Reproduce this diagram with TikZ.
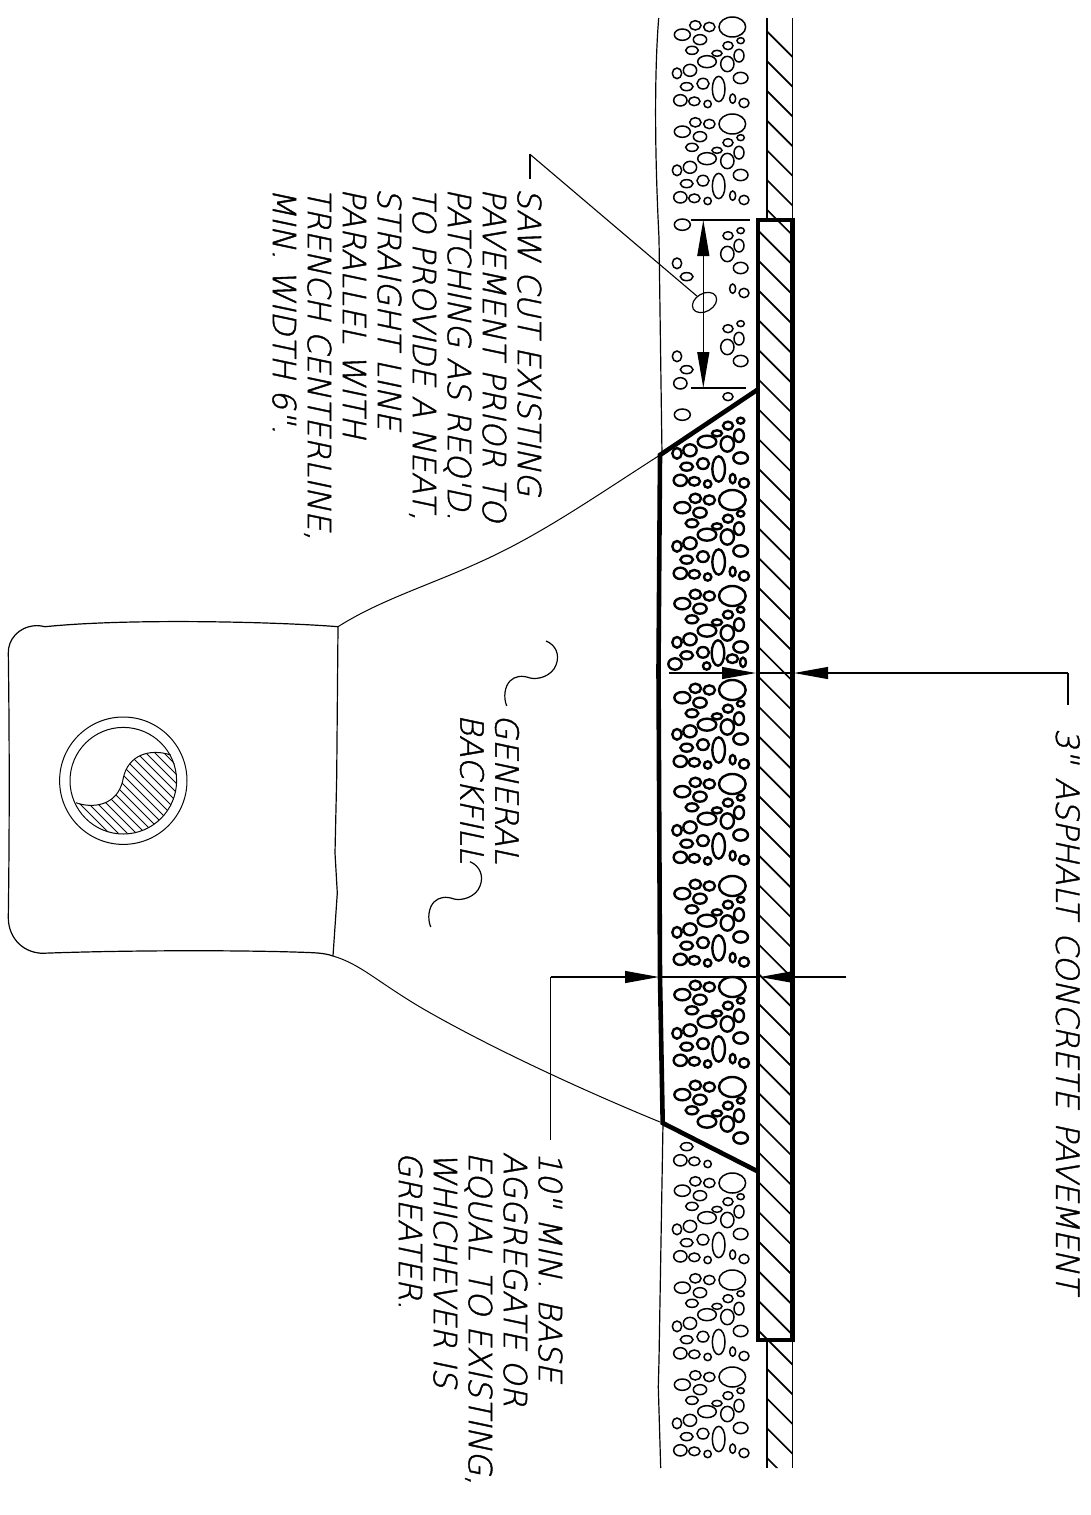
\documentclass[tikz,border=0pt]{standalone}
\usepackage{fontspec}
\usepackage{tikz}
\usetikzlibrary{arrows.meta,shapes.geometric}
\newfontfamily\cadfont[FakeSlant=0.21,FakeBold=1.3]{DejaVu Sans ExtraLight}

\def\ovalsT{277/81/40/30,208/81/17/14,166/76/17/14,127/104/24/17,180/119/20/15,302/122/11/9,264/137/15/12,156/151/19/12,231/160/15/9,297/167/15/19,201/185/28/18,262/192/20/23}
\def\ovalsM{111/220/14/16,150/211/20/18,302/234/22/17,140/260/19/12,189/251/18/16,236/267/19/38}
\def\ovalsL{121/301/20/17,163/304/17/13,203/312/11/11,278/296/9/14,312/309/15/14}
\newcommand{\aggtile}[3]{%
	\begin{scope}[shift={(640,#1-27)},x=0.3333pt,y=-0.3333pt]
		\foreach \cx/\cy/\rx/\ry in #2
			\draw[#3] (\cx,\cy) ellipse [x radius=\rx, y radius=\ry];
	\end{scope}}

\begin{document}
\begin{tikzpicture}[x=1pt,y=-1pt]
	\tikzstyle{thinoval}=[line width=1.5pt]
	\tikzstyle{thickoval}=[line width=2.4pt]
	\tikzstyle{edgeline}=[line width=1.2pt]
	\tikzstyle{heavy}=[line width=4.6pt, line join=miter]
	\tikzstyle{hatch}=[line width=1.7pt]
	\tikzstyle{dimline}=[line width=1.1pt]
	\tikzstyle{dimarrow}=[line width=1.1pt, -{Triangle[length=34pt,width=12pt]}]
	\tikzstyle{dimboth}=[line width=1.1pt, {Triangle[length=36pt,width=12pt]}-{Triangle[length=36pt,width=12pt]}]
	\tikzstyle{note}=[rotate=-90, anchor=north west, inner sep=0pt, align=left, font=\cadfont\fontsize{32}{35}\selectfont]

	\useasboundingbox (0,0) rectangle (1091,1515);

	\foreach \t in {27,124,1183,1280,1377}{
		\aggtile{\t}{\ovalsT}{thinoval}
		\aggtile{\t}{\ovalsM}{thinoval}
		\aggtile{\t}{\ovalsL}{thinoval}
	}
	\aggtile{217}{{127/104/24/17,264/137/15/12,302/122/11/9,297/167/15/19,262/192/20/23,302/234/22/17,111/220/14/16,140/260/19/12,278/296/9/14,312/309/15/14}}{thinoval}
	\aggtile{310}{{264/137/15/12,302/122/11/9,297/167/15/19,262/192/20/23,302/234/22/17,111/220/14/16,140/260/19/12,121/301/20/17}}{thinoval}
	\aggtile{407}{{127/104/24/17,264/50/15/12}}{thinoval}
	\aggtile{1087}{{140/260/19/12,121/301/20/17,163/304/17/13,203/312/11/11}}{thinoval}
	\node[draw, ellipse, edgeline, rotate=30, minimum width=26pt, minimum height=18pt, inner sep=0pt] (sawoval) at (704.5,302.5) {};

	\foreach \t in {500,784,886,987}{
		\aggtile{\t}{\ovalsM}{thickoval}
		\aggtile{\t}{\ovalsL}{thickoval}
	}
	\foreach \t in {500,596,690,784,886,987,1087}{
		\aggtile{\t}{\ovalsT}{thickoval}
	}
	\aggtile{407}{{264/137/15/12,302/122/11/9,231/160/15/9,297/167/15/19,201/185/28/18,262/192/20/23}}{thickoval}
	\aggtile{407}{\ovalsM}{thickoval}
	\aggtile{407}{\ovalsL}{thickoval}
	\aggtile{596}{{111/220/14/16,150/211/20/18,302/234/22/17,140/259/19/12,189/250/18/16,234/252/19/38,105/285/20/17,200/291/11/11,277/269/17/13,309/280/9/14}}{thickoval}
	\aggtile{688}{\ovalsM}{thickoval}
	\aggtile{688}{\ovalsL}{thickoval}
	\aggtile{1087}{{302/234/22/17}}{thickoval}

	\draw[edgeline] (658.7,18) .. controls (654.5,70) and (654.5,150) .. (659,238) -- (662,455);
	\draw[edgeline] (663,1123) -- (659,1360) -- (658.3,1387) -- (660.7,1468);

	\draw[edgeline] (767,18) -- (767,220) (792.5,18) -- (792.5,220);
	\draw[edgeline] (767,1340) -- (767,1468) (792.5,1340) -- (792.5,1468);
	\begin{scope}
		\clip (767,17) rectangle (792.5,220) (758,220) rectangle (792.5,1340) (767,1340) rectangle (792.5,1468);
		\foreach \k in {0,...,48}
			\draw[hatch] (767.3,{31.7+29.72*\k}) ++(-30,-30) -- ++(90,90);
	\end{scope}
	\draw[heavy] (758,220) rectangle (792.5,1340);
	\draw[heavy] (757,390) -- (660,455) -- (658.5,670) -- (660,977) -- (662.7,1123) -- (757,1171);

	\draw[line width=1pt] (660,455) .. controls (590,500) and (540,535) .. (480,562) .. controls (430,585) and (380,600) .. (338,626.7);
	\draw[line width=1pt] (333,956) .. controls (360,964) and (375,980) .. (420,1007) .. controls (480,1042) and (570,1085) .. (660,1122);
	\draw[edgeline] (338,626.7) .. controls (280,622) and (130,618) .. (45,626.7) .. controls (40,625.5) and (36,625.5) .. (35,625.7) .. controls (18,627) and (8,640) .. (8.3,653) .. controls (9.5,740) and (9.5,830) .. (8.3,917) .. controls (8,935) and (20,952) .. (41.7,953.3) .. controls (130,950) and (250,950) .. (313,952.7) .. controls (320,953) and (328,954) .. (333,956);
	\draw[edgeline] (338,626.7) -- (336.7,776.7) -- (335,853) -- (337.3,893) -- (333,956);

	\draw[line width=1pt] (123.3,780.7) circle [radius=63.7];
	\draw[line width=1pt] (123.3,780.7) circle [radius=53.3];
	\begin{scope}
		\clip (76,802.7) .. controls (90,808) and (118,808) .. (123.3,778) .. controls (128,755) and (150,748) .. (170.7,755) arc [start angle=-28.5, end angle=155, radius=53.3] -- cycle;
		\foreach \k in {0,...,22}
			\draw[line width=0.9pt] ({60+9*\k},730) -- ++(100,100);
		\foreach \k in {1,...,10}
			\draw[line width=0.9pt] (60,{730+9*\k}) -- ++(100,100);
	\end{scope}
	\draw[line width=1pt] (76,802.7) .. controls (90,808) and (118,808) .. (123.3,778) .. controls (128,755) and (150,748) .. (170.7,755);

	\draw[edgeline] (546,641) .. controls (556,645) and (560,655) .. (556,665) .. controls (552,676) and (538,680) .. (530,678) .. controls (522,675) and (515,676) .. (510,681) .. controls (505,686) and (503,697) .. (506.7,706);
	\draw[edgeline] (470,861.7) .. controls (480,866) and (484,876) .. (480,886) .. controls (476,897) and (462,901) .. (454,899) .. controls (446,896) and (439,897) .. (434,902) .. controls (429,907) and (427,918) .. (430.7,927);

	\node[note] (sawnote) at (541.7,188) {SAW CUT EXISTING\\PAVEMENT PRIOR TO\\PATCHING AS REQ'D.\\TO PROVIDE A NEAT,\\STRAIGHT LINE\\PARALLEL WITH\\TRENCH CENTERLINE,\\MIN. WIDTH 6".};
	\node[note] (basenote) at (562.7,1151.7) {10" MIN. BASE\\AGGREGATE OR\\EQUAL TO EXISTING,\\WHICHEVER IS\\GREATER.};
	\node[note] (fillnote) at (519.3,714) {GENERAL\\BACKFILL};
	\node[note] (asphaltnote) at (1080,728) {3"\hspace{4pt} ASPHALT\hspace{4pt} CONCRETE\hspace{4pt} PAVEMENT};

	\coordinate (sawtick) at (530,179.3);
	\coordinate (sawbend) at (530,154.3);
	\coordinate (cuttop) at (703.3,220);
	\coordinate (cutbot) at (703.3,388);
	\coordinate (cuttopa) at (690.7,220);
	\coordinate (cuttopb) at (750,220);
	\coordinate (cutbota) at (690.7,388);
	\coordinate (cutbotb) at (746,388);
	\coordinate (asplead) at (1068,705);
	\coordinate (aspbend) at (1068,673);
	\coordinate (asptip) at (794,673);
	\coordinate (aspstart) at (668.7,673);
	\coordinate (aspin) at (756,673);
	\coordinate (baselead) at (550.7,1140);
	\coordinate (basebend) at (550.7,977);
	\coordinate (basetip) at (659,977);
	\coordinate (baseend) at (845.7,977);
	\coordinate (basein) at (760,977);

	\path
	(sawtick) edge [dimline] (sawbend)
	(sawbend) edge [dimline] (sawoval)
	(cuttop) edge [dimboth] (cutbot)
	(cuttopa) edge [dimline] (cuttopb)
	(cutbota) edge [dimline] (cutbotb)
	(asplead) edge [dimline] (aspbend)
	(aspbend) edge [dimarrow] (asptip)
	(aspstart) edge [dimarrow] (aspin)
	(aspin) edge [dimline] (asptip)
	(baselead) edge [dimline] (basebend)
	(basebend) edge [dimarrow] (basetip)
	(basetip) edge [dimline] (basein)
	(baseend) edge [dimarrow] (basein)
	;

\end{tikzpicture}
\end{document}
